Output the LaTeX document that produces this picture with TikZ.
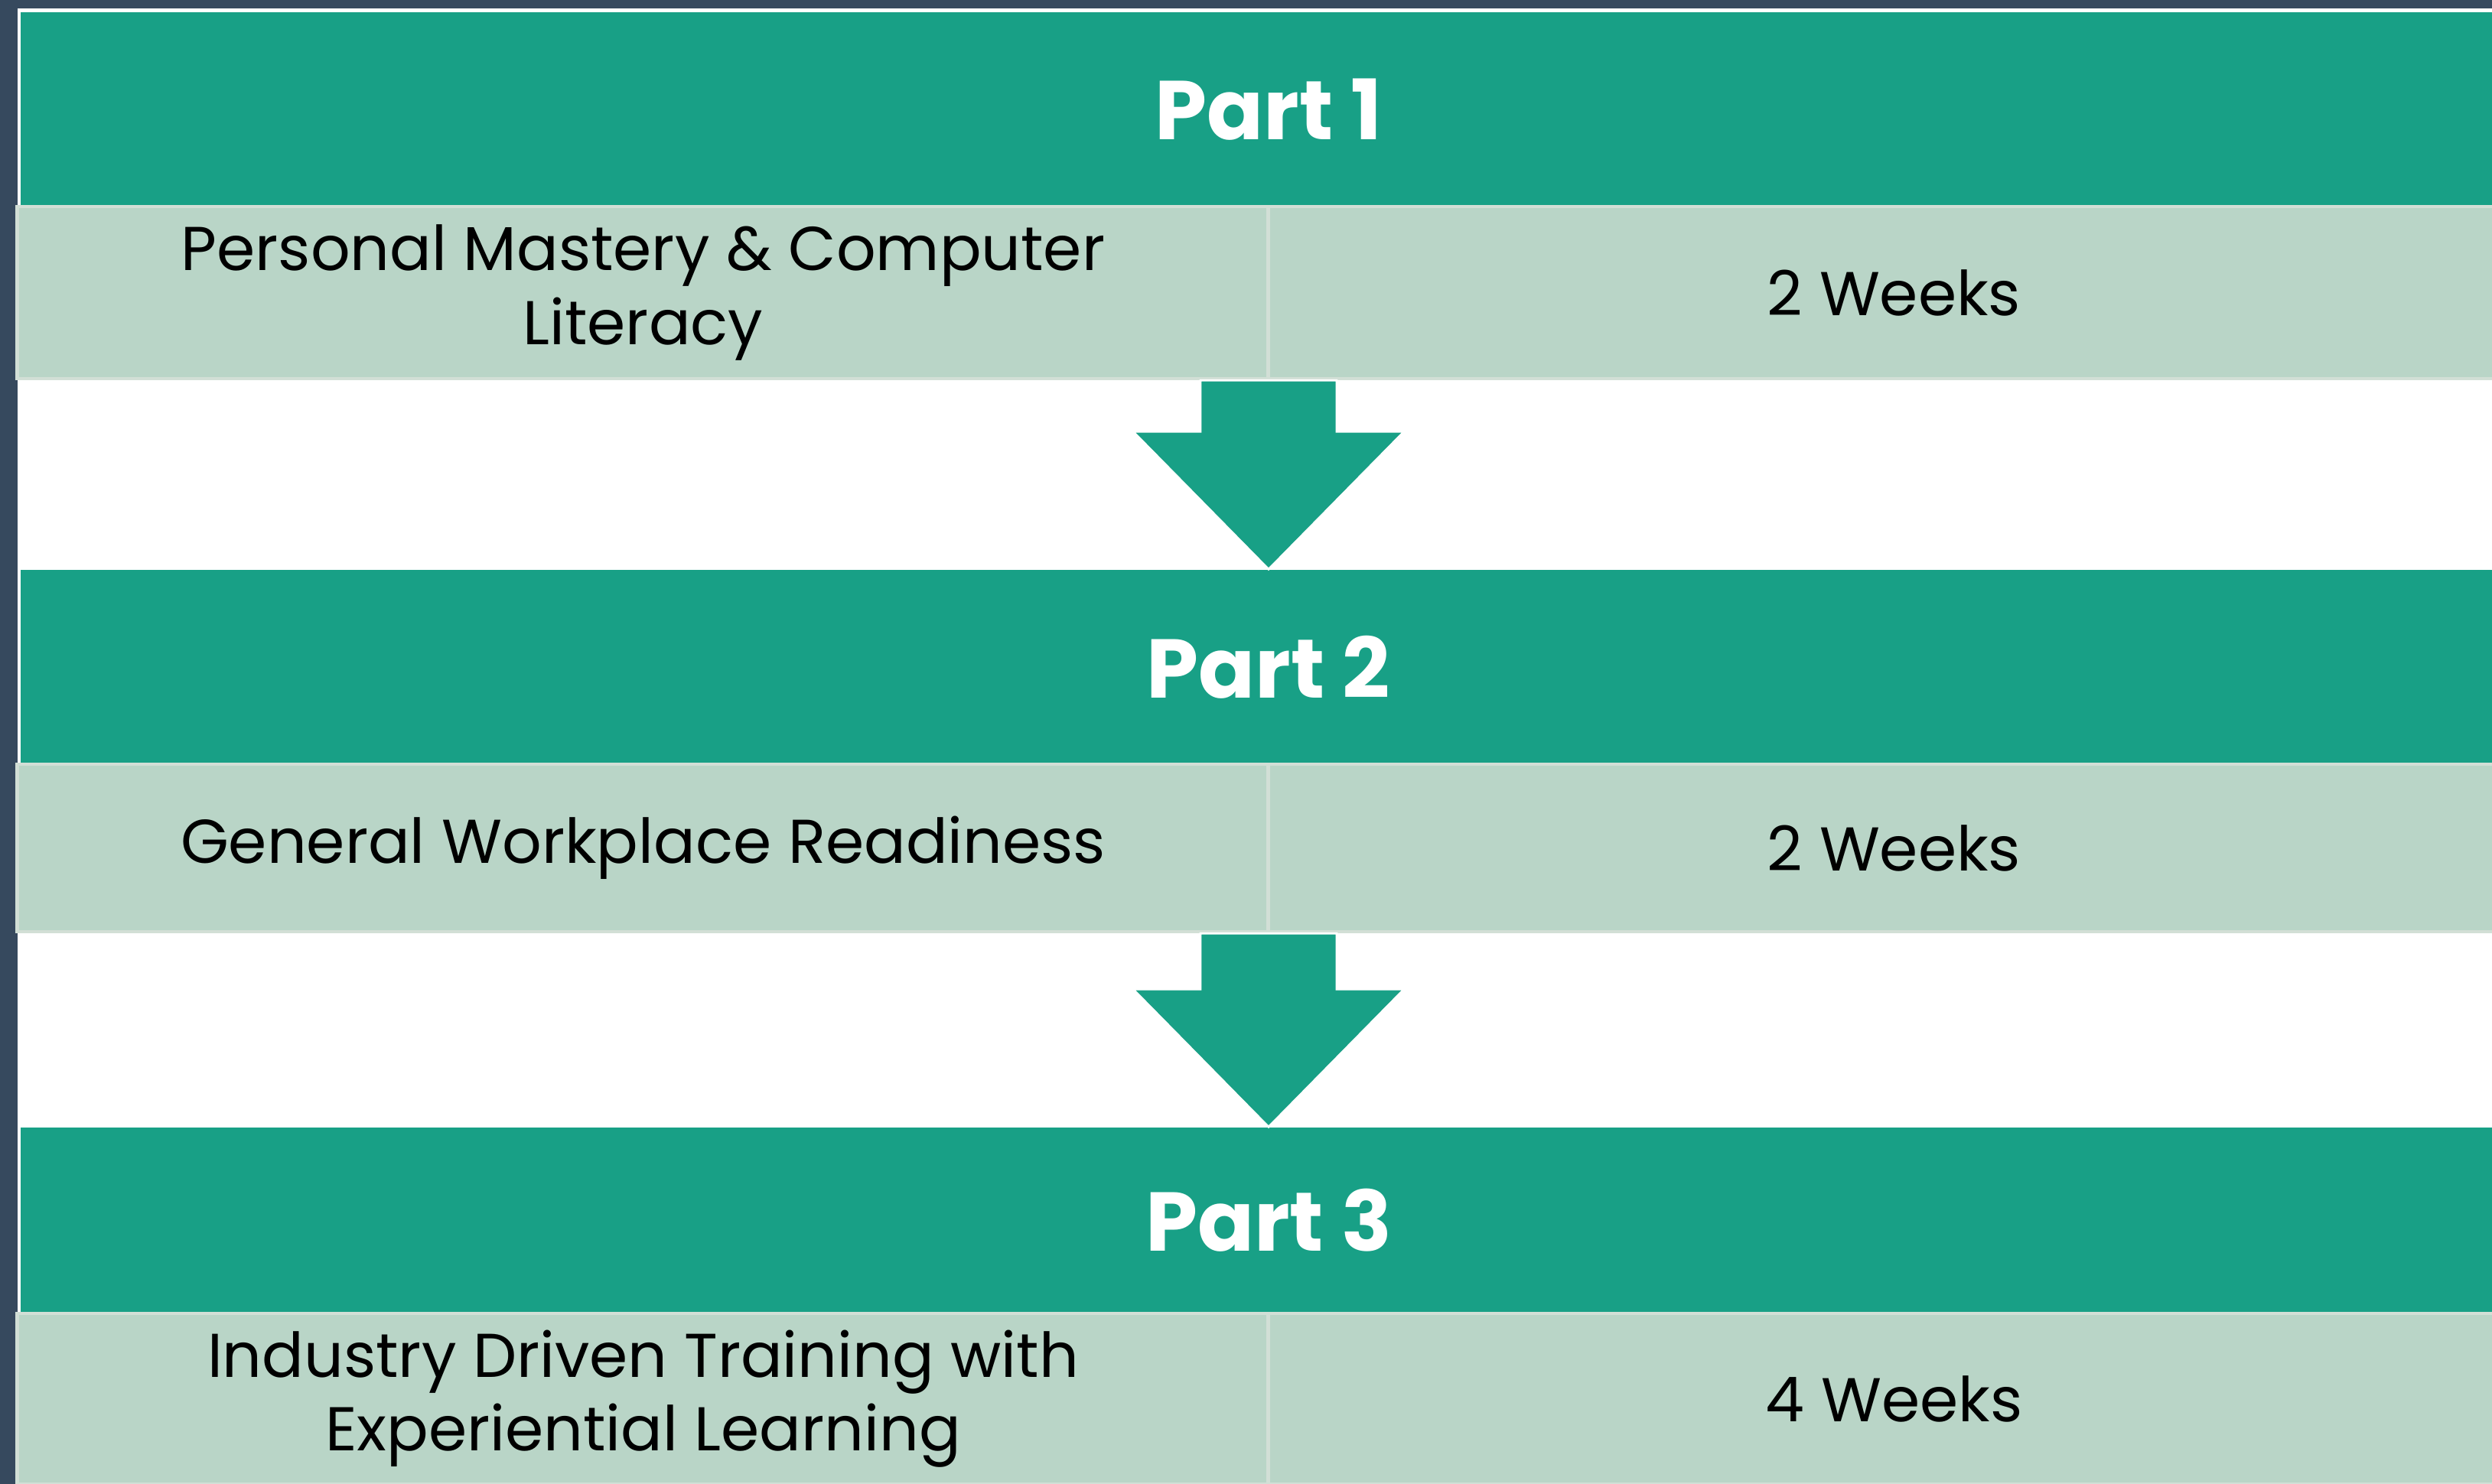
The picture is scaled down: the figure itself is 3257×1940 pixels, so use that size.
\documentclass[tikz,border=0pt]{standalone}
\usepackage{fontspec}
\setmainfont{Poppins}
\usetikzlibrary{calc}

\definecolor{partteal}{HTML}{18A086}
\definecolor{rowsage}{HTML}{B9D5C7}
\definecolor{rowline}{HTML}{D2DFD6}
\definecolor{slate}{HTML}{36495E}

\tikzset{
  header/.style={fill=partteal, text=white, inner sep=0pt,
    minimum width=32.6cm, font=\bfseries\fontsize{31}{37}\selectfont},
  cell/.style={fill=rowsage, draw=rowline, line width=1.2pt, inner sep=0pt,
    minimum width=16.35cm, align=center, text=black,
    font=\fontsize{23}{27.5}\selectfont},
  downarrow/.style={fill=partteal, draw=white, line width=0.8pt, line join=miter}
}

% block arrow from the bottom of a row to the top of the next header
\newcommand{\blockarrow}[2]{
  \path[downarrow] ($(#1 -| #2)+(-89,0)$) -- ($(#1 -| #2)+(89,0)$)
    -- ($(#2)+(89,-180)$) -- ($(#2)+(177,-180)$) -- (#2)
    -- ($(#2)+(-177,-180)$) -- ($(#2)+(-89,-180)$) -- cycle;
}

\begin{document}
\begin{tikzpicture}[x=0.01cm, y=-0.01cm]
  % frame
  \useasboundingbox (0,0) rectangle (3257,1940);
  \fill[slate] (0,0) rectangle (3257,1940);
  \fill[white] (23,11) rectangle (3257,1940);

  % part headers
  \node[header, minimum height=2.54cm] (part1) at (1658,143) {Part 1};
  \node[header, minimum height=2.54cm] (part2) at (1658,872) {Part 2};
  \node[header, minimum height=2.43cm] (part3) at (1658,1595.5) {Part 3};

  % rows: task and duration
  \node[cell, minimum height=2.25cm] (task1) at (840.5,382.5)
    {Personal Mastery \& Computer\\Literacy};
  \node[cell, minimum height=2.25cm] (time1) at (2475.5,382.5) {2 Weeks};
  \node[cell, minimum height=2.19cm] (task2) at (840.5,1108.5)
    {General Workplace Readiness};
  \node[cell, minimum height=2.19cm] (time2) at (2475.5,1108.5) {2 Weeks};
  \node[cell, minimum height=2.23cm] (task3) at (840.5,1828.5)
    {Industry Driven Training with\\Experiential Learning};
  \node[cell, minimum height=2.23cm] (time3) at (2475.5,1828.5) {4 Weeks};

  % arrows
  \blockarrow{task1.south east}{part2.north}
  \blockarrow{task2.south east}{part3.north}
\end{tikzpicture}
\end{document}
